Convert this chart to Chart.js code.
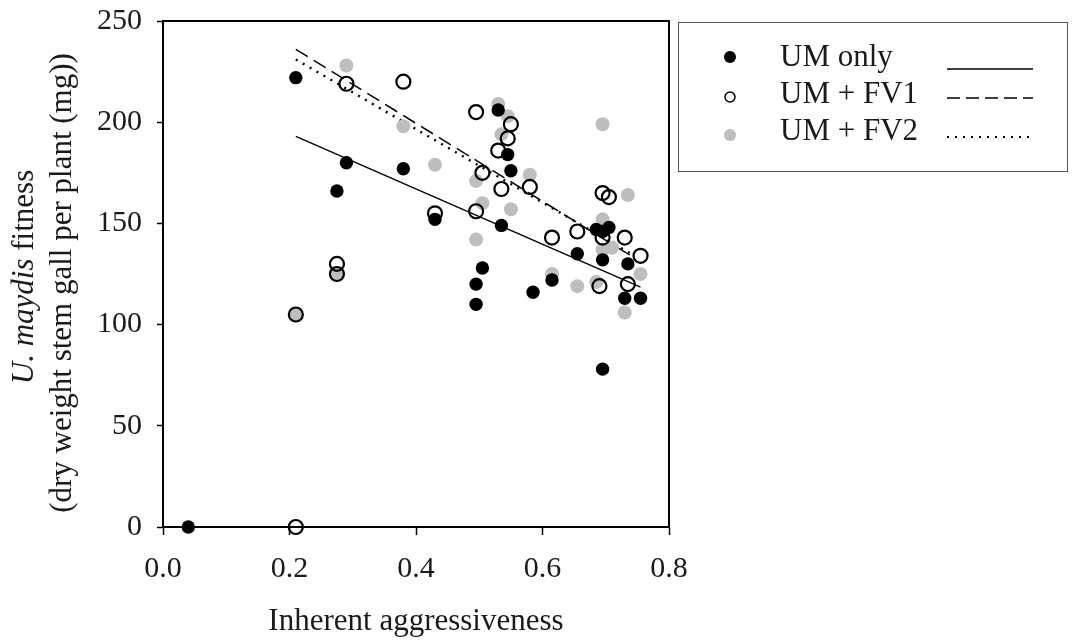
<!DOCTYPE html>
<html>
<head>
<meta charset="utf-8">
<script src="https://cdn.jsdelivr.net/npm/chart.js@4.4.1/dist/chart.umd.min.js"></script>
<style>
  html, body { margin: 0; padding: 0; background: #fff; }
  #c { display: block; }
</style>
</head>
<body>
<canvas id="c" width="1075" height="641"></canvas>
<script>
// Values.
const umOnlyX = [0.04, 0.21, 0.275, 0.29, 0.38, 0.43, 0.495, 0.495, 0.505, 0.53, 0.535, 0.545,
  0.55, 0.585, 0.615, 0.655, 0.685, 0.695, 0.705, 0.695, 0.695, 0.73, 0.735, 0.755];
const umOnlyY = [0, 222, 166, 180, 177, 152, 120, 110, 128, 206, 149, 184,
  176, 116, 122, 135, 147, 146, 148, 132, 78, 113, 130, 113];

const fv1X = [0.21, 0.21, 0.275, 0.275, 0.29, 0.38, 0.43, 0.495, 0.495, 0.505, 0.53, 0.535,
  0.545, 0.55, 0.58, 0.615, 0.655, 0.69, 0.695, 0.695, 0.705, 0.73, 0.735, 0.755];
const fv1Y = [0, 105, 130, 125, 219, 220, 155, 205, 156, 175, 186, 167,
  192, 199, 168, 143, 146, 119, 143, 165, 163, 143, 120, 134];

const fv2X = [0.21, 0.275, 0.29, 0.38, 0.43, 0.495, 0.495, 0.505, 0.53, 0.535, 0.545, 0.55,
  0.58, 0.615, 0.655, 0.685, 0.695, 0.695, 0.695, 0.71, 0.73, 0.735, 0.755];
const fv2Y = [105, 125, 228, 198, 179, 171, 142, 160, 209, 194, 203, 157,
  174, 125, 119, 121, 199, 152, 137, 138, 106, 164, 125];

// fitted lines, end points
const umOnlyFitX = [0.21, 0.755];
const umOnlyFitY = [193, 118.5];
const fv1FitX = [0.21, 0.74];
const fv1FitY = [236, 134];
const fv2FitX = [0.21, 0.74];
const fv2FitY = [231, 135];

const xTicks = [0.0, 0.2, 0.4, 0.6, 0.8];
const yTicks = [0, 50, 100, 150, 200, 250];

const legendLabels = ['UM only', 'UM + FV1', 'UM + FV2'];
const xTitle = 'Inherent aggressiveness';
const yTitleItalic = 'U. maydis';
const yTitleRest = ' fitness';
const yTitleLine2 = '(dry weight stem gall per plant (mg))';

const SERIF = '"Liberation Serif", "Times New Roman", serif';
const GREY = '#bebebe';
const TEXT = '#1a1a1a';

const pts = (xs, ys) => xs.map((x, i) => ({ x: x, y: ys[i] }));

// full box round the plot area
const frame = {
  id: 'frame',
  afterDraw(chart) {
    const a = chart.chartArea, ctx = chart.ctx;
    ctx.save();
    ctx.strokeStyle = '#000';
    ctx.lineWidth = 2;
    ctx.strokeRect(a.left, a.top, a.right - a.left, a.bottom - a.top);
    ctx.restore();
  }
};

// two-line y title, first part italic
const yTitle = {
  id: 'yTitle',
  afterDraw(chart) {
    const ctx = chart.ctx;
    ctx.save();
    ctx.fillStyle = TEXT;
    ctx.textBaseline = 'middle';
    ctx.textAlign = 'left';
    ctx.translate(25, 277);
    ctx.rotate(-Math.PI / 2);
    ctx.font = 'italic 31px ' + SERIF;
    const w1 = ctx.measureText(yTitleItalic).width;
    ctx.font = '31px ' + SERIF;
    const w2 = ctx.measureText(yTitleRest).width;
    const x = -(w1 + w2) / 2;
    ctx.font = 'italic 31px ' + SERIF;
    ctx.fillText(yTitleItalic, x, 0);
    ctx.font = '31px ' + SERIF;
    ctx.fillText(yTitleRest, x + w1, 0);
    ctx.restore();

    ctx.save();
    ctx.fillStyle = TEXT;
    ctx.textBaseline = 'middle';
    ctx.textAlign = 'center';
    ctx.translate(63, 283);
    ctx.rotate(-Math.PI / 2);
    ctx.font = '31px ' + SERIF;
    ctx.fillText(yTitleLine2, 0, 0);
    ctx.restore();
  }
};

// legend box: marker, label and line sample per row
const legendBox = {
  id: 'legendBox',
  afterDraw(chart) {
    const ctx = chart.ctx;
    ctx.save();
    ctx.strokeStyle = '#555';
    ctx.lineWidth = 1;
    ctx.strokeRect(678.5, 22.5, 389, 149);

    const rows = [
      { my: 57, ty: 58, ly: 69, dash: [] },
      { my: 97, ty: 95, ly: 98, dash: [13, 6] },
      { my: 135, ty: 132, ly: 137, dash: [2, 6] }
    ];
    rows.forEach((r, i) => {
      ctx.beginPath();
      ctx.arc(730, r.my, i === 1 ? 5 : 6, 0, Math.PI * 2);
      if (i === 1) {
        ctx.lineWidth = 1.5;
        ctx.strokeStyle = '#000';
        ctx.stroke();
      } else {
        ctx.fillStyle = i === 0 ? '#000' : GREY;
        ctx.fill();
      }
      ctx.fillStyle = TEXT;
      ctx.font = '31px ' + SERIF;
      ctx.textAlign = 'left';
      ctx.textBaseline = 'middle';
      ctx.fillText(legendLabels[i], 780, r.ty);

      ctx.beginPath();
      ctx.setLineDash(r.dash);
      ctx.lineWidth = i === 2 ? 2 : 1.3;
      ctx.strokeStyle = '#000';
      ctx.moveTo(947, r.ly);
      ctx.lineTo(1033, r.ly);
      ctx.stroke();
      ctx.setLineDash([]);
    });
    ctx.restore();
  }
};

new Chart(document.getElementById('c'), {
  type: 'scatter',
  data: {
    datasets: [
      {
        label: legendLabels[1],
        data: pts(fv1X, fv1Y),
        pointRadius: 7,
        pointBackgroundColor: 'rgba(0,0,0,0)',
        pointBorderColor: '#000',
        pointBorderWidth: 2.2,
        clip: false,
        order: 1
      },
      {
        label: legendLabels[0],
        data: pts(umOnlyX, umOnlyY),
        pointRadius: 6.7,
        pointBackgroundColor: '#000',
        pointBorderWidth: 0,
        clip: false,
        order: 2
      },
      {
        label: legendLabels[2],
        data: pts(fv2X, fv2Y),
        pointRadius: 7,
        pointBackgroundColor: GREY,
        pointBorderWidth: 0,
        clip: false,
        order: 3
      },
      {
        type: 'line',
        data: pts(umOnlyFitX, umOnlyFitY),
        borderColor: '#000',
        borderWidth: 1.4,
        pointRadius: 0,
        order: 4
      },
      {
        type: 'line',
        data: pts(fv1FitX, fv1FitY),
        borderColor: '#000',
        borderWidth: 1.5,
        borderDash: [14, 7],
        pointRadius: 0,
        order: 4
      },
      {
        type: 'line',
        data: pts(fv2FitX, fv2FitY),
        borderColor: '#000',
        borderWidth: 2.4,
        borderDash: [2, 6],
        pointRadius: 0,
        order: 4
      }
    ]
  },
  options: {
    responsive: false,
    animation: false,
    layout: { padding: { top: 21, right: 406, left: 0, bottom: 0 } },
    plugins: {
      legend: { display: false },
      tooltip: { enabled: false }
    },
    scales: {
      x: {
        type: 'linear',
        min: 0,
        max: 0.8,
        afterBuildTicks: s => { s.ticks = xTicks.map(v => ({ value: v })); },
        afterFit: s => { s.height = 114; s.paddingLeft = 0; s.paddingRight = 0; },
        ticks: {
          padding: 16,
          color: TEXT,
          font: { family: SERIF, size: 30 },
          callback: v => v.toFixed(1)
        },
        grid: {
          drawOnChartArea: false,
          drawTicks: true,
          tickLength: 8,
          tickColor: '#000',
          tickWidth: 1.5
        },
        border: { display: true, color: '#000', width: 2 },
        title: {
          display: true,
          text: xTitle,
          color: TEXT,
          font: { family: SERIF, size: 31 },
          padding: { top: 0, bottom: 1 }
        }
      },
      y: {
        min: 0,
        max: 250,
        afterBuildTicks: s => { s.ticks = yTicks.map(v => ({ value: v })); },
        afterFit: s => { s.width = 163; s.paddingTop = 0; s.paddingBottom = 0; },
        ticks: {
          padding: 15,
          color: TEXT,
          font: { family: SERIF, size: 30 }
        },
        grid: {
          drawOnChartArea: false,
          drawTicks: true,
          tickLength: 6,
          tickColor: '#000',
          tickWidth: 1.5
        },
        border: { display: true, color: '#000', width: 2 }
      }
    }
  },
  plugins: [frame, yTitle, legendBox]
});
</script>
</body>
</html>
